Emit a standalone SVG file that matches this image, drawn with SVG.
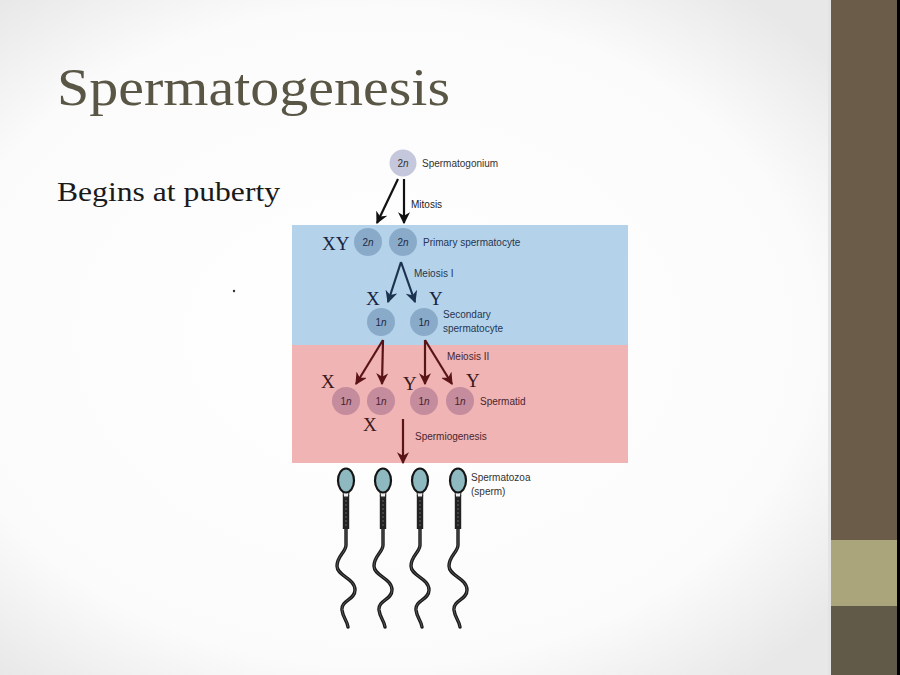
<svg xmlns="http://www.w3.org/2000/svg" width="900" height="675" viewBox="0 0 900 675">
<defs>
<radialGradient id="bg" cx="0.42" cy="0.5" r="0.65">
<stop offset="0" stop-color="#ffffff"/>
<stop offset="0.75" stop-color="#fbfbfb"/>
<stop offset="1" stop-color="#e8e8e8"/>
</radialGradient>
<marker id="ab" viewBox="0 0 10 10" refX="9" refY="5" markerWidth="5.5" markerHeight="5.5" orient="auto" markerUnits="strokeWidth">
<path d="M0,0 L10,5 L0,10 L3,5 Z" fill="#111"/>
</marker>
<marker id="an" viewBox="0 0 10 10" refX="9" refY="5" markerWidth="5.5" markerHeight="5.5" orient="auto" markerUnits="strokeWidth">
<path d="M0,0 L10,5 L0,10 L3,5 Z" fill="#1c3350"/>
</marker>
<marker id="am" viewBox="0 0 10 10" refX="9" refY="5" markerWidth="5.5" markerHeight="5.5" orient="auto" markerUnits="strokeWidth">
<path d="M0,0 L10,5 L0,10 L3,5 Z" fill="#5a1418"/>
</marker>
<g id="sperm">
<path d="M0,494 L0,545 C0,552 -9,556 -9,566 C-9,576 9,578 9,590 C9,600 -5,600 -4,610 C-3,618 1,620 2,627" fill="none" stroke="#1a1a1a" stroke-width="3.4" stroke-linecap="round"/>
<path d="M0,494 L0,545 C0,552 -9,556 -9,566 C-9,576 9,578 9,590 C9,600 -5,600 -4,610 C-3,618 1,620 2,627" fill="none" stroke="#6a6a6a" stroke-width="0.8"/>
<rect x="-3.2" y="495" width="6.4" height="34" fill="#222"/>
<line x1="0" y1="496" x2="0" y2="528" stroke="#777" stroke-width="0.8" stroke-dasharray="2,2"/>
<path d="M-3,491 L3,491 L2.5,497 L-2.5,497 Z" fill="#eee" stroke="#222" stroke-width="1"/>
<ellipse cx="0" cy="480.5" rx="8" ry="12" fill="#8fb9c1" stroke="#151515" stroke-width="2.2"/>
</g>
</defs>
<style>
.lbl{font-family:"Liberation Sans",Arial,sans-serif;font-size:10px}
.blue{fill:#263553}
.pink{fill:#4a2530}
.cn{font-family:"Liberation Sans",Arial,sans-serif;font-size:10px;text-anchor:middle}
.chr{font-family:"Liberation Serif","Times New Roman",serif;font-size:19px;fill:#1a2440}
.chrp{font-family:"Liberation Serif","Times New Roman",serif;font-size:19px;fill:#3a1a20}
.c2{fill:#8aaaca}
.c1{fill:#8aaaca}
.cp{fill:#c48c9c}
</style>
<rect width="900" height="675" fill="url(#bg)"/>
<rect x="831" y="0" width="66" height="675" fill="#6b5c4a"/>
<rect x="831" y="540" width="66" height="66" fill="#aba57c"/>
<rect x="831" y="606" width="66" height="69" fill="#625a49"/>
<rect x="897" y="0" width="3" height="675" fill="#000"/>
<rect x="828" y="0" width="3" height="675" fill="#e4e4e4"/>

<text x="57" y="105" font-family="'Liberation Serif','Times New Roman',serif" font-size="52" fill="#5a5646" textLength="393" lengthAdjust="spacingAndGlyphs">Spermatogenesis</text>
<text x="57" y="201" font-family="'Liberation Serif','Times New Roman',serif" font-size="27" fill="#1a1a1a" textLength="223" lengthAdjust="spacingAndGlyphs">Begins at puberty</text>
<circle cx="234" cy="291" r="1.2" fill="#333"/>

<rect x="292" y="225" width="336" height="120" fill="#b4d3ea"/>
<rect x="292" y="345" width="336" height="118" fill="#efb4b3"/>

<g id="connectors" fill="none" stroke-width="2.2">
<line x1="398" y1="179" x2="377" y2="223" stroke="#111" marker-end="url(#ab)"/>
<line x1="404" y1="179" x2="404" y2="223" stroke="#111" marker-end="url(#ab)"/>
<line x1="401" y1="262" x2="388" y2="302" stroke="#1c3350" marker-end="url(#an)"/>
<line x1="401" y1="262" x2="415" y2="302" stroke="#1c3350" marker-end="url(#an)"/>
<line x1="383" y1="340" x2="356" y2="384" stroke="#5a1418" marker-end="url(#am)"/>
<line x1="383" y1="340" x2="382" y2="384" stroke="#5a1418" marker-end="url(#am)"/>
<line x1="425" y1="340" x2="425" y2="384" stroke="#5a1418" marker-end="url(#am)"/>
<line x1="425" y1="340" x2="452" y2="384" stroke="#5a1418" marker-end="url(#am)"/>
<line x1="403" y1="419" x2="403" y2="463" stroke="#5a1418" marker-end="url(#am)"/>
</g>

<g id="spermatogonium">
<circle cx="403" cy="163" r="13.5" fill="#c5c8dc"/>
<text class="cn" x="403" y="167" fill="#333">2<tspan font-style="italic">n</tspan></text>
<text class="lbl" x="422" y="167" fill="#333">Spermatogonium</text>
<text class="lbl" x="411" y="208" fill="#222">Mitosis</text>
</g>

<g id="primary-spermatocyte">
<text class="chr" x="322" y="250">XY</text>
<circle cx="368" cy="242" r="14" class="c2"/>
<text class="cn" x="368" y="246" fill="#1d2a44">2<tspan font-style="italic">n</tspan></text>
<circle cx="403" cy="242" r="14" class="c2"/>
<text class="cn" x="403" y="246" fill="#1d2a44">2<tspan font-style="italic">n</tspan></text>
<text class="lbl blue" x="423" y="246">Primary spermatocyte</text>
<text class="lbl blue" x="414" y="277">Meiosis I</text>
</g>

<g id="secondary-spermatocyte">
<text class="chr" x="366" y="305">X</text>
<text class="chr" x="429" y="305">Y</text>
<circle cx="381" cy="322" r="14" class="c1"/>
<text class="cn" x="381" y="326" fill="#1d2a44">1<tspan font-style="italic">n</tspan></text>
<circle cx="424" cy="322" r="14" class="c1"/>
<text class="cn" x="424" y="326" fill="#1d2a44">1<tspan font-style="italic">n</tspan></text>
<text class="lbl blue" x="443" y="318">Secondary</text>
<text class="lbl blue" x="443" y="332">spermatocyte</text>
</g>

<g id="spermatids">
<text class="lbl pink" x="447" y="360">Meiosis II</text>
<text class="chrp" x="321" y="388">X</text>
<text class="chrp" x="403" y="390">Y</text>
<text class="chrp" x="466" y="387">Y</text>
<circle cx="346" cy="401" r="14" class="cp"/>
<text class="cn" x="346" y="405" fill="#4a2232">1<tspan font-style="italic">n</tspan></text>
<circle cx="381" cy="401" r="14" class="cp"/>
<text class="cn" x="381" y="405" fill="#4a2232">1<tspan font-style="italic">n</tspan></text>
<circle cx="424" cy="401" r="14" class="cp"/>
<text class="cn" x="424" y="405" fill="#4a2232">1<tspan font-style="italic">n</tspan></text>
<circle cx="460" cy="401" r="14" class="cp"/>
<text class="cn" x="460" y="405" fill="#4a2232">1<tspan font-style="italic">n</tspan></text>
<text class="lbl pink" x="480" y="405">Spermatid</text>
<text class="chrp" x="363" y="431">X</text>
<text class="lbl pink" x="415" y="440">Spermiogenesis</text>
</g>

<g id="spermatozoa">
<use href="#sperm" transform="translate(346,0)"/>
<use href="#sperm" transform="translate(383,0)"/>
<use href="#sperm" transform="translate(420,0)"/>
<use href="#sperm" transform="translate(458,0)"/>
<text class="lbl" x="471" y="481" fill="#333">Spermatozoa</text>
<text class="lbl" x="471" y="495" fill="#333">(sperm)</text>
</g>
</svg>
